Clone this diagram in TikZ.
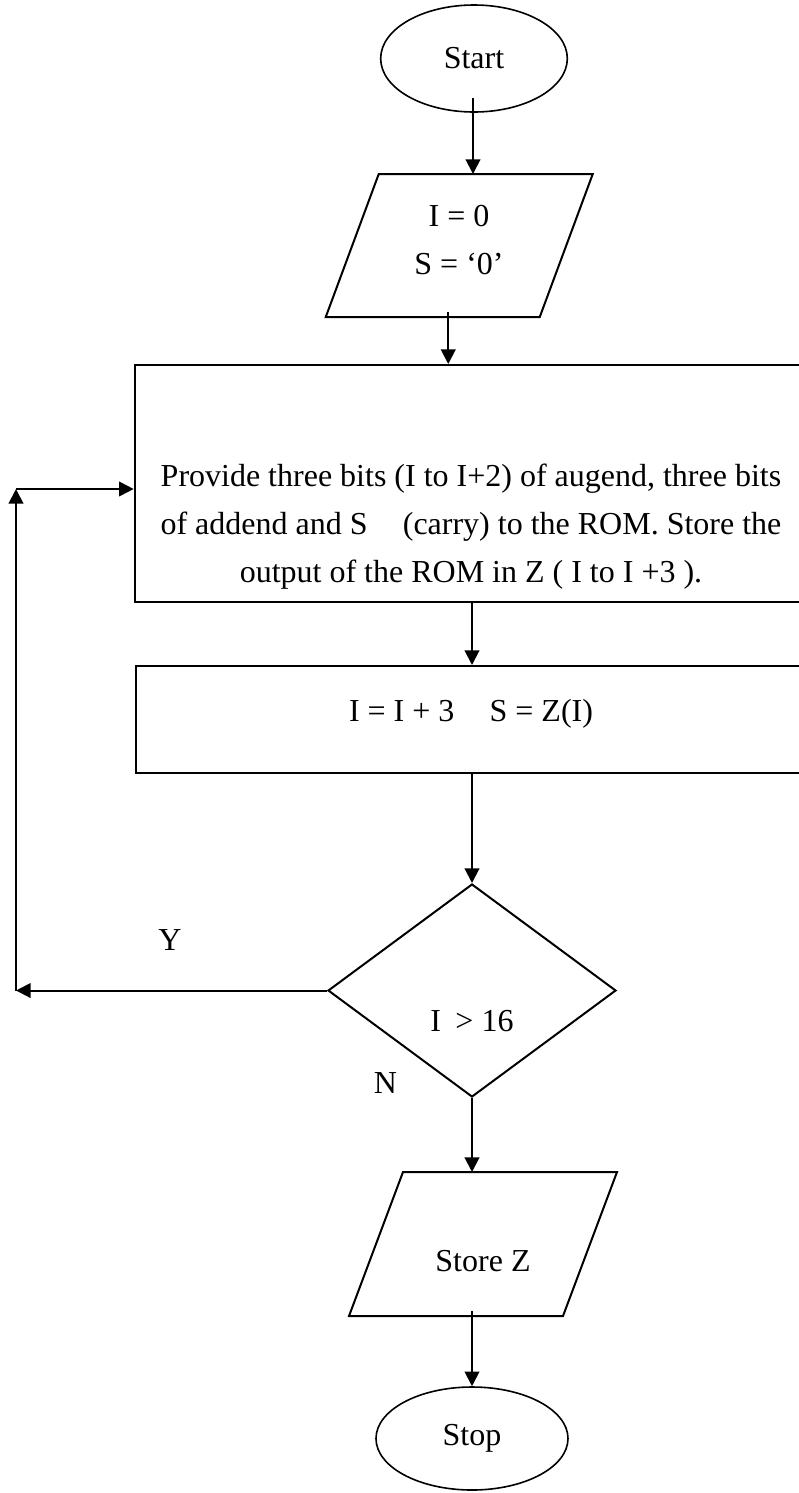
\documentclass[tikz,border=0pt]{standalone}
\usepackage{fontspec}
\setmainfont{Liberation Serif}
\usetikzlibrary{shapes.geometric,arrows.meta,calc}

\begin{document}
\begin{tikzpicture}[x=0.75pt,y=-0.75pt,
  font=\fontsize{24pt}{36pt}\selectfont,
  line width=1.5pt,
  flow/.style={-{Triangle[length=11pt,width=11pt]}},
  terminal/.style={draw,ellipse,line width=1.2pt,inner sep=0pt},
  procbox/.style={draw,rectangle,inner sep=0pt,minimum width=503pt},
  iobox/.style={rectangle,inner sep=0pt,minimum width=159pt},
  txt/.style={inner sep=0pt,align=center}]
\useasboundingbox (0,0) rectangle (799,1493);
\clip (0,0) rectangle (799,1493);
% blocks
\node[terminal,minimum width=140pt,minimum height=80.25pt] (start) at (474,58.5) {Start};
\node[iobox,minimum height=105.75pt] (init) at (459.25,245.5) {};
\draw ($(init.south west)+(-26.5,0)$) -- ($(init.south east)+(-26.5,0)$) -- ($(init.north east)+(26.5,0)$) -- ($(init.north west)+(26.5,0)$) -- cycle;
\node[txt] (inittxt) at (459,240) {I = 0\\S = ‘0’};
\node[procbox,minimum height=177.75pt] (rom) at (470,483.5) {};
\node[txt] (romtxt) at (471,527) {Provide three bits (I to I+2) of augend, three bits\\of addend and S\hspace{1.1em}(carry) to the ROM. Store the\\output of the ROM in Z ( I to I +3 ).};
\node[procbox,minimum height=80.25pt] (step) at (471,719.5) {};
\node[txt] (steptxt) at (471,714) {I = I + 3\hspace{1.1em}S = Z(I)};
\node[draw,diamond,inner sep=0pt,minimum width=216pt,minimum height=159.75pt] (dec) at (472,990.5) {};
\node[txt] (dectxt) at (472,1021) {I\hspace{0.45em}> 16};
\node[iobox,minimum height=106.5pt] (out) at (483,1244) {};
\draw ($(out.south west)+(-27,0)$) -- ($(out.south east)+(-27,0)$) -- ($(out.north east)+(27,0)$) -- ($(out.north west)+(27,0)$) -- cycle;
\node[txt] (outtxt) at (483,1261.5) {Store Z};
\node[terminal,minimum width=144pt,minimum height=77.25pt] (stop) at (472,1438.5) {Stop};
\node[txt] (ylab) at (170,940) {Y};
\node[txt] (nlab) at (385.5,1083) {N};
% connectors
\coordinate (s0) at ($(start.south)+(-1,-15)$);
\draw[flow] (s0) -- (s0 |- init.north);
\coordinate (i0) at ($(init.south)+(-11,-5)$);
\draw[flow] (i0) -- (i0 |- rom.north);
\draw[flow] (dec.north |- rom.south) -- (dec.north |- step.north);
\draw[flow] (dec.north |- step.south) -- (dec.north);
\draw[flow] (dec.south) -- (dec.south |- out.north);
\coordinate (o0) at ($(out.south)+(-11,-5)$);
\draw[flow] (o0) -- (o0 |- stop.north);
\coordinate (loopB) at (16,990.5);
\coordinate (loopT) at (16,489);
\draw[flow] (dec.west) -- (loopB);
\draw[flow] (loopB) -- (loopT);
\draw[flow] (loopT) -- (loopT -| rom.west);
\end{tikzpicture}
\end{document}
